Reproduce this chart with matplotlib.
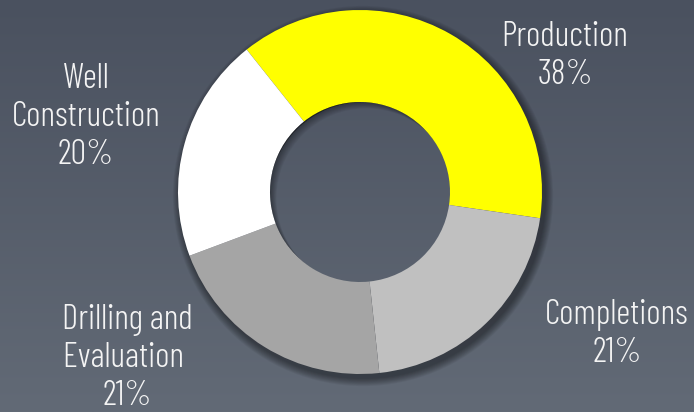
import matplotlib
matplotlib.use("Agg")
import matplotlib.pyplot as plt
import numpy as np
from matplotlib.patches import Wedge, Circle

labels = ["Production", "Completions", "Drilling and\nEvaluation ", "Well\nConstruction"]
shares = [38, 21, 21, 20]
colors = ["#ffff00", "#c0c0c0", "#a5a5a5", "#ffffff"]

W, H = 694, 412
CX, CY = 360, 412 - 192
R_OUT, R_IN = 182, 90
label_pos = [(565, 412 - 56), (617, 412 - 334), (127, 412 - 358), (86, 412 - 117)]
FAM = ["Barlow Condensed", "Roboto Condensed", "DejaVu Sans"]

fig = plt.figure(figsize=(6.94, 4.12), dpi=100)
ax = fig.add_axes([0, 0, 1, 1])

# background gradient
t = np.linspace(0, 1, 256)[:, None, None]
top = np.array([0x4a, 0x51, 0x5f]) / 255
bot = np.array([0x62, 0x6a, 0x76]) / 255
img = top + (bot - top) * t
ax.imshow(img, extent=(0, W, 0, H), origin="upper", aspect="auto", zorder=0)

# outer drop shadow
for k in range(1, 10):
    ax.add_patch(Wedge((CX + 3, CY - 4), R_OUT + k * 0.9, 0, 360,
                       width=R_OUT + k * 0.9 - R_IN - 4, facecolor="black",
                       alpha=0.05, linewidth=0, zorder=1))

wedges, _ = ax.pie(shares, colors=colors, startangle=128.5, counterclock=False,
                   radius=R_OUT, center=(CX, CY),
                   wedgeprops=dict(width=R_OUT - R_IN, linewidth=0))
for w in wedges:
    w.set_zorder(2)

# inner shadow inside the hole
hole = Circle((CX, CY), R_IN, transform=ax.transData)
for k in range(1, 9):
    p = Wedge((CX + k * 0.8, CY - k * 0.8), R_IN * 3, 0, 360, width=R_IN * 2,
              facecolor="black", alpha=0.05, linewidth=0, zorder=3)
    ax.add_patch(p)
    p.set_clip_path(hole)

for lab, s, (x, y) in zip(labels, shares, label_pos):
    ax.text(x, y, f"{lab}\n{s}%", ha="center", va="center", multialignment="center",
            color="#f4f4f4", fontsize=25, family=FAM, fontweight=300,
            linespacing=1.23, zorder=5)

ax.set_xlim(0, W)
ax.set_ylim(0, H)
ax.set_aspect("auto")
ax.axis("off")
fig.savefig("out.png", dpi=100)
